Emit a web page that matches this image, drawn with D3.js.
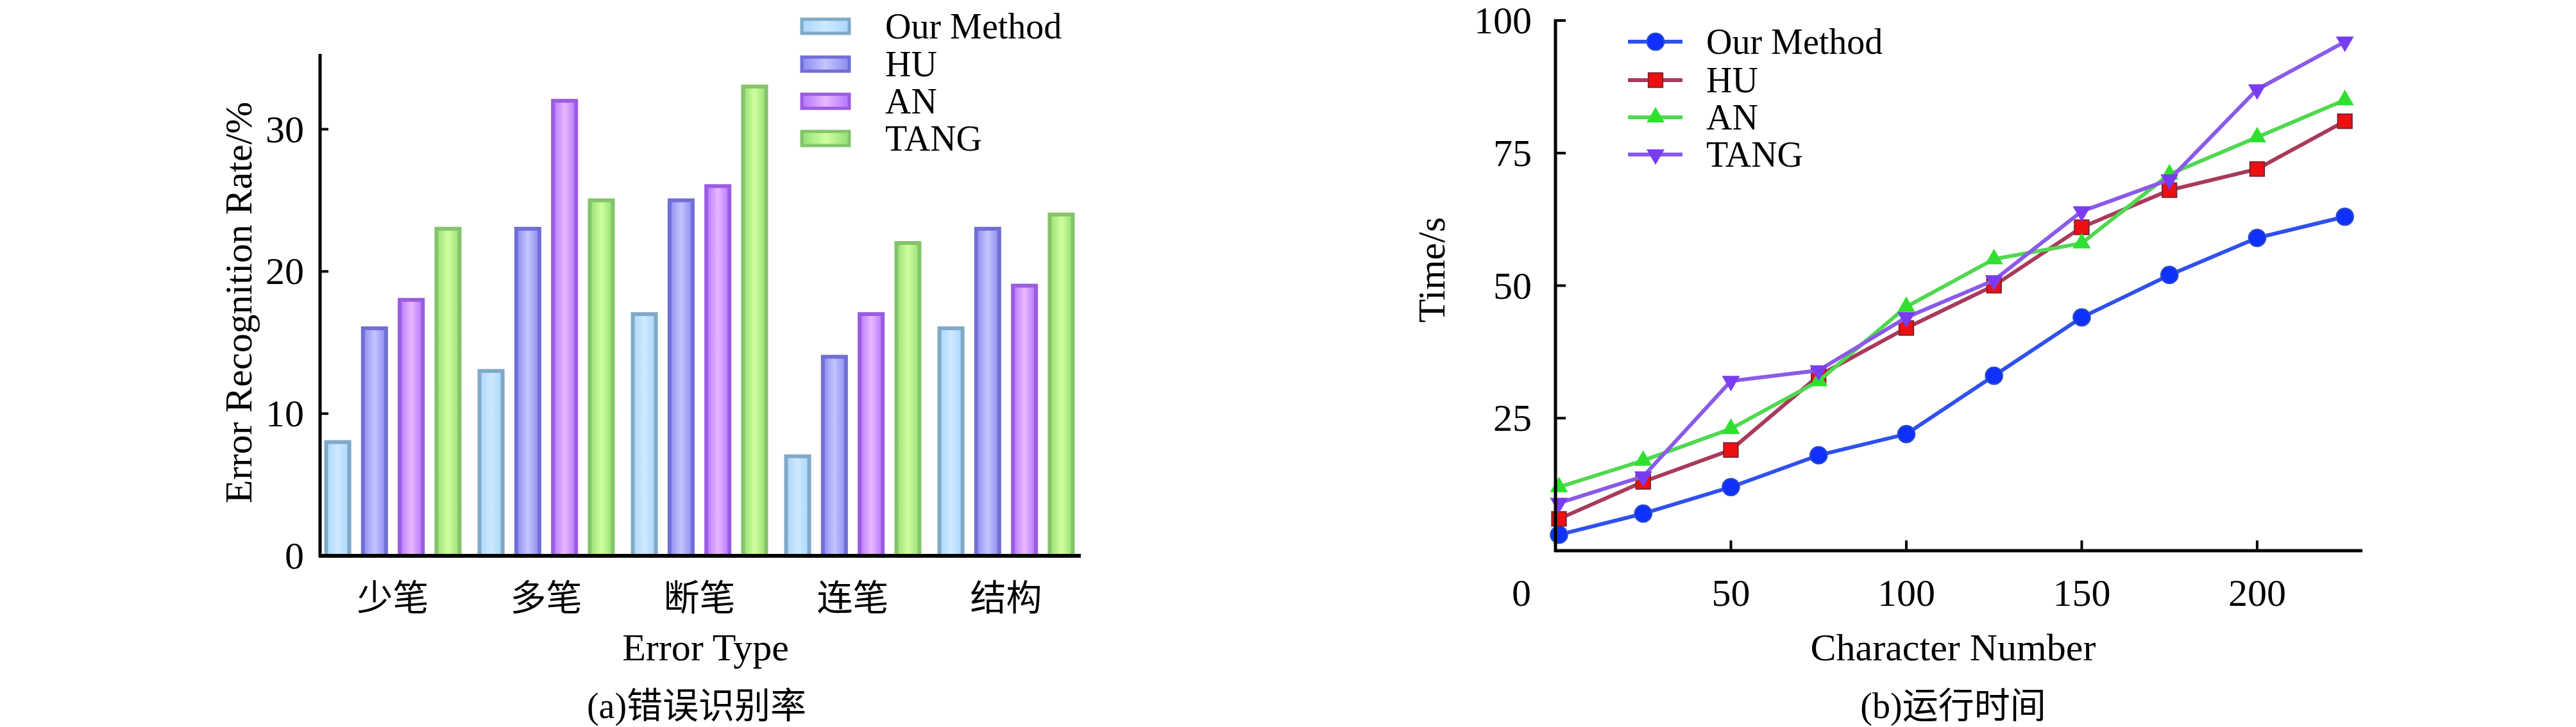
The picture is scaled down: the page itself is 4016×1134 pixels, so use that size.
<!DOCTYPE html>
<html><head><meta charset="utf-8">
<script src="https://cdn.jsdelivr.net/npm/d3@7"></script>
<style>body{margin:0;background:#fff}svg{display:block}text{font-family:"Liberation Serif","DejaVu Serif",serif;fill:#000}</style>
</head><body><svg id="c" width="4016" height="1134"></svg>
<script>
const categories=["少笔","多笔","断笔","连笔","结构"];
const barSeries=["Our Method","HU","AN","TANG"];
const ourRate=[8,13,17,7,16];
const huRate=[16,23,25,14,23];
const anRate=[18,32,26,17,19];
const tangRate=[23,25,33,22,24];
const yTicksA=[0,10,20,30];
const charNum=[1,25,50,75,100,125,150,175,200,225];
const ourTime=[3,7,12,18,22,33,44,52,59,63];
const huTime=[6,13,19,33,42,50,61,68,72,81];
const anTime=[12,17,23,32,46,55,58,71,78,85];
const tangTime=[9,14,32,34,44,51,64,70,87,96];
const xTicksB=[50,100,150,200];
const yTicksB=[25,50,75,100];

const svg=d3.select("#c");
const defs=svg.append("defs");
const barCols=[{s:"#7fa9c6",e:"#a9d6fb",m:"#cde9ff"},{s:"#6f6fd6",e:"#8a8af0",m:"#c4c4ff"},{s:"#9a5ce0",e:"#b574ff",m:"#e8b8ff"},{s:"#84c46c",e:"#94de74",m:"#d0ff9c"}];
barCols.forEach((c,i)=>{const g=defs.append("linearGradient").attr("id","g"+i).attr("x1","0").attr("x2","1");
g.append("stop").attr("offset","0").attr("stop-color",c.e);g.append("stop").attr("offset","0.5").attr("stop-color",c.m);g.append("stop").attr("offset","1").attr("stop-color",c.e);});

// ---- chart A
const A=svg.append("g");
const xA=d3.scaleBand().domain(categories).range([493,1688]);
const xIn=d3.scaleBand().domain(barSeries).range([0,208]).paddingInner(0.37);
const yA=d3.scaleLinear().domain([0,35.3]).range([867,84]);
const vals=[ourRate,huRate,anRate,tangRate];
categories.forEach((c,ci)=>{
  barSeries.forEach((s,si)=>{
    const x0=xA(c)+xA.bandwidth()/2-104+xIn(s);
    A.append("rect").attr("x",x0).attr("y",yA(vals[si][ci])).attr("width",xIn.bandwidth()).attr("height",yA(0)-yA(vals[si][ci]))
     .attr("fill","url(#g"+si+")").attr("stroke",barCols[si].s).attr("stroke-width",6);
  });
});
A.append("line").attr("x1",499).attr("x2",499).attr("y1",84).attr("y2",869).attr("stroke","#000").attr("stroke-width",5);
A.append("line").attr("x1",497).attr("x2",1685).attr("y1",867).attr("y2",867).attr("stroke","#000").attr("stroke-width",6);
yTicksA.forEach(t=>{A.append("line").attr("x1",499).attr("x2",512).attr("y1",yA(t)).attr("y2",yA(t)).attr("stroke","#000").attr("stroke-width",4);
  A.append("text").attr("x",474).attr("y",yA(t)+20).attr("text-anchor","end").attr("font-size",60).text(t);});
categories.forEach(c=>A.append("text").attr("x",xA(c)+xA.bandwidth()/2).attr("y",952).attr("text-anchor","middle").attr("font-size",56).style("font-family","'Noto Sans CJK SC'").text(c));
A.append("text").attr("x",1100).attr("y",1030).attr("text-anchor","middle").attr("font-size",60).text("Error Type");
A.append("text").attr("x",1086).attr("y",1120).attr("text-anchor","middle").attr("font-size",56).html('(a)<tspan style="font-family:\'Noto Sans CJK SC\'">错误识别率</tspan>');
A.append("text").attr("transform","translate(392,472) rotate(-90)").attr("text-anchor","middle").attr("font-size",60).text("Error Recognition  Rate/%");
barSeries.forEach((s,i)=>{const y=[41,100,158,216][i];
  A.append("rect").attr("x",1250).attr("y",y-11).attr("width",74).attr("height",22).attr("fill","url(#g"+i+")").attr("stroke",barCols[i].s).attr("stroke-width",5);
  A.append("text").attr("x",1380).attr("y",y+19).attr("font-size",56).text(s);});

// ---- chart B
const B=svg.append("g");
const xB=d3.scaleLinear().domain([0,230]).range([2425,3683]);
const yB=d3.scaleLinear().domain([0,100]).range([859,32]);
const series=[
 {name:"Our Method",v:ourTime,line:"#3050ee",fill:"#1030ff",sym:d3.symbolCircle},
 {name:"HU",v:huTime,line:"#a83a5a",fill:"#ee1010",sym:d3.symbolSquare},
 {name:"AN",v:anTime,line:"#50d850",fill:"#30e030",sym:d3.symbolTriangle},
 {name:"TANG",v:tangTime,line:"#8a5ae8",fill:"#7a3cf0",sym:"down"}];
const line=d3.line().x((d,i)=>xB(charNum[i])).y(d=>yB(d));
function marker(g,s,x,y){
  if(s.sym==="down"){g.append("path").attr("d",d3.symbol(d3.symbolTriangle,340)()).attr("transform",`translate(${x},${y}) rotate(180)`).attr("fill",s.fill);}
  else g.append("path").attr("d",d3.symbol(s.sym,s.sym===d3.symbolSquare?500:s.sym===d3.symbolTriangle?340:560)()).attr("transform",`translate(${x},${y})`).attr("fill",s.fill).attr("stroke",s.sym===d3.symbolSquare?"#802030":"#3050c0").attr("stroke-width",s.sym===d3.symbolTriangle?0:2);
}
series.forEach(s=>{
  B.append("path").attr("d",line(s.v)).attr("fill","none").attr("stroke",s.line).attr("stroke-width",6);
  s.v.forEach((d,i)=>marker(B,s,xB(charNum[i]),yB(d)));
});
B.append("line").attr("x1",2425).attr("x2",2425).attr("y1",30).attr("y2",861).attr("stroke","#000").attr("stroke-width",5);
B.append("line").attr("x1",2423).attr("x2",3683).attr("y1",859).attr("y2",859).attr("stroke","#000").attr("stroke-width",5);
yTicksB.forEach(t=>{B.append("line").attr("x1",2425).attr("x2",2441).attr("y1",yB(t)).attr("y2",yB(t)).attr("stroke","#000").attr("stroke-width",4);
  B.append("text").attr("x",2388).attr("y",yB(t)+20).attr("text-anchor","end").attr("font-size",60).text(t);});
xTicksB.forEach(t=>{B.append("line").attr("x1",xB(t)).attr("x2",xB(t)).attr("y1",859).attr("y2",843).attr("stroke","#000").attr("stroke-width",4);
  B.append("text").attr("x",xB(t)).attr("y",945).attr("text-anchor","middle").attr("font-size",60).text(t);});
B.append("text").attr("x",2372).attr("y",945).attr("text-anchor","middle").attr("font-size",60).text("0");
B.append("text").attr("x",3045).attr("y",1030).attr("text-anchor","middle").attr("font-size",60).text("Character Number");
B.append("text").attr("x",3045).attr("y",1120).attr("text-anchor","middle").attr("font-size",56).html('(b)<tspan style="font-family:\'Noto Sans CJK SC\'">运行时间</tspan>');
B.append("text").attr("transform","translate(2252,421) rotate(-90)").attr("text-anchor","middle").attr("font-size",60).text("Time/s");
series.forEach((s,i)=>{const y=[65,125,183,241][i];
  B.append("line").attr("x1",2538).attr("x2",2623).attr("y1",y).attr("y2",y).attr("stroke",s.line).attr("stroke-width",6);
  marker(B,s,2581,y);
  B.append("text").attr("x",2660).attr("y",y+19).attr("font-size",56).text(s.name);});
</script></body></html>
